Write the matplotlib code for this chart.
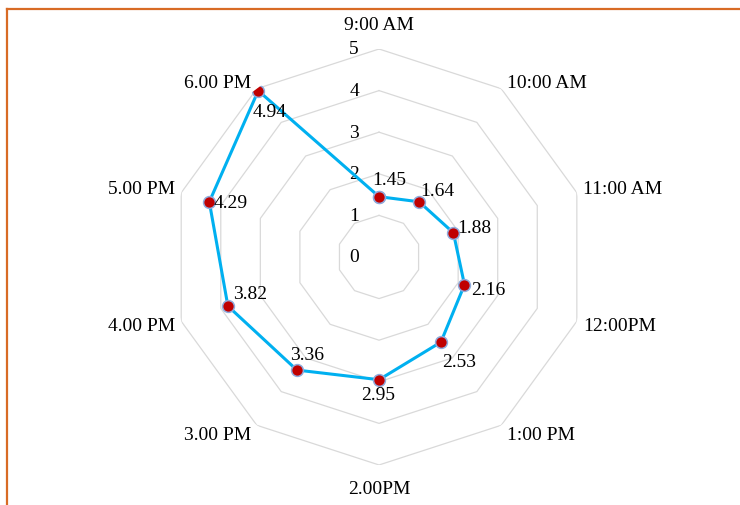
import matplotlib.pyplot as plt
import numpy as np
from matplotlib.lines import Line2D

# 每小时读数
hours = ['9:00 AM', '10:00 AM', '11:00 AM', '12:00PM', '1:00 PM',
         '2.00PM', '3.00 PM', '4.00 PM', '5.00 PM', '6.00 PM']
values = [1.45, 1.64, 1.88, 2.16, 2.53, 2.95, 3.36, 3.82, 4.29, 4.94]
levels = [0, 1, 2, 3, 4, 5]

# 数据标签相对于点的偏移（像素）
label_offsets = [(10, 17), (18, 11), (21, 5), (24, -5), (18, -19),
                 (-1, -15), (10, 16), (22, 13), (21, -1), (11, -21)]


def draw_radar():
    plt.rcParams['font.family'] = ['Liberation Serif', 'DejaVu Serif']
    fig = plt.figure(figsize=(7.4, 5.06), dpi=100)
    ax = fig.add_axes([0.2311, 0.0791, 0.5622, 0.8221], projection='polar')
    ax.set_theta_zero_location('N')
    ax.set_theta_direction(-1)
    ax.set_ylim(0, 5)
    ax.grid(False)
    ax.spines['polar'].set_visible(False)
    ax.set_xticks([])
    ax.set_yticks([])
    ax.patch.set_alpha(0)

    n = len(hours)
    theta = np.arange(n) * 2 * np.pi / n
    closed = np.append(theta, theta[0])

    # 十边形网格
    for lv in levels[1:]:
        ax.plot(closed, [lv] * (n + 1), color='#D9D9D9', lw=0.9, zorder=1)

    # 刻度数字
    for lv in levels:
        ax.annotate(str(lv), xy=(0, lv), xytext=(-25, 0), textcoords='offset pixels',
                    ha='center', va='center', fontsize=14, annotation_clip=False)

    # 类别标签
    for t, name in zip(theta, hours):
        s, c = np.sin(t), np.cos(t)
        if abs(s) < 0.1:
            ha = 'center'
            dx, dy = 0, 24 * np.sign(c)
        elif s > 0:
            ha = 'left'
            dx, dy = 6, 6 * np.sign(c) - 3 * (c < 0)
        else:
            ha = 'right'
            dx, dy = -6, 6 * np.sign(c) - 3 * (c < 0)
        if abs(c) < 0.5:
            dy = 4 if c > 0 else -4
        ax.annotate(name, xy=(t, 5), xytext=(dx, dy), textcoords='offset pixels',
                    ha=ha, va='center', fontsize=14, annotation_clip=False)

    # 数据折线
    vals = np.append(values, values[0])
    ax.plot(closed, vals, color='#00B0F0', lw=2.2, marker='o', markersize=8.5,
            markerfacecolor='#C00000', markeredgecolor='#8FAADC',
            markeredgewidth=1.1, zorder=3)

    for t, v, off in zip(theta, values, label_offsets):
        ax.annotate(f'{v:.2f}', xy=(t, v), xytext=off, textcoords='offset pixels',
                    ha='center', va='center', fontsize=14, zorder=4,
                    annotation_clip=False)

    # 橙色边框
    fig.add_artist(Line2D([6.5 / 740, 1], [496 / 506, 496 / 506],
                          transform=fig.transFigure, color='#D86B25', lw=1.6))
    fig.add_artist(Line2D([6.5 / 740, 6.5 / 740], [0, 496 / 506],
                          transform=fig.transFigure, color='#D86B25', lw=1.6))

    plt.savefig('out.png', dpi=100)


if __name__ == "__main__":
    draw_radar()
